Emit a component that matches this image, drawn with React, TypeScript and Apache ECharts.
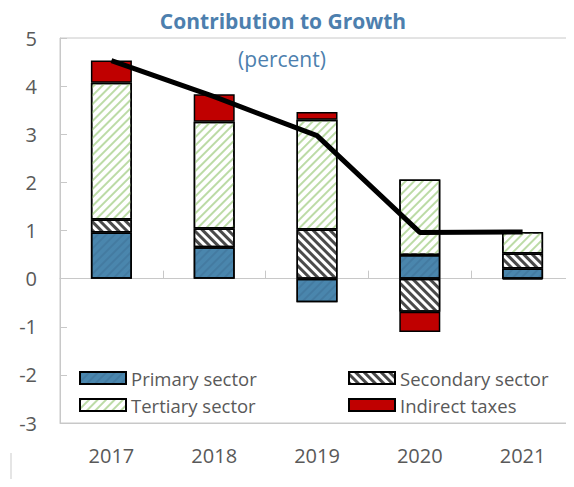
import React, { useEffect, useRef } from "react";
import * as echarts from "echarts";

const years = ["2017", "2018", "2019", "2020", "2021"];
const primary = [0.96, 0.65, -0.49, 0.49, 0.21];
const secondary = [0.27, 0.39, 1.02, -0.69, 0.31];
const tertiary = [2.84, 2.22, 2.28, 1.57, 0.45];
const indirect = [0.46, 0.57, 0.16, -0.42, -0.02];
const growth = [4.53, 3.78, 2.97, 0.96, 0.97];

const FONT = "'Open Sans', 'Noto Sans', sans-serif";
const GRAY = "#595959";

export default function App() {
  const ref = useRef<HTMLDivElement>(null);
  useEffect(() => {
    if (!ref.current) return;
    const chart = echarts.init(ref.current, undefined, { renderer: "svg" });
    const border = { borderColor: "#000", borderWidth: 1.5 };
    const bar = (name: string, data: number[], color: string, decal: any) => ({
      name,
      type: "bar",
      stack: "g",
      data,
      barWidth: 41,
      xAxisIndex: 0,
      itemStyle: { color, ...border, decal },
    });
    const legendBase = {
      orient: "vertical",
      top: 363,
      itemWidth: 46,
      itemHeight: 12,
      itemGap: 7,
      icon: "rect",
      textStyle: { fontFamily: FONT, fontSize: 18.5, color: GRAY, lineHeight: 20 },
    };
    chart.setOption({
      animation: false,
      backgroundColor: "#fff",
      textStyle: { fontFamily: FONT },
      title: [
        {
          text: "Contribution to Growth",
          left: 278,
          textAlign: "center",
          top: 5,
          textStyle: { fontFamily: FONT, fontSize: 21, fontWeight: "bold", color: "#4d7fae" },
        },
        {
          text: "(percent)",
          left: 277,
          textAlign: "center",
          top: 43,
          textStyle: { fontFamily: FONT, fontSize: 21, fontWeight: "normal", color: "#4d7fae" },
        },
      ],
      legend: [
        { ...legendBase, left: 74, data: ["Primary sector", "Tertiary sector"] },
        { ...legendBase, left: 343, data: ["Secondary sector", "Indirect taxes"] },
      ],
      grid: {
        left: 60,
        top: 38,
        right: -1,
        bottom: 64,
        show: true,
        borderColor: "#c8c8c8",
        borderWidth: 1,
      },
      xAxis: [
        {
          type: "category",
          data: years,
          position: "bottom",
          axisLine: { onZero: false, lineStyle: { color: "#c8c8c8" } },
          axisTick: { show: false },
          axisLabel: { color: GRAY, fontSize: 20, fontFamily: FONT, margin: 22 },
        },
        {
          type: "category",
          data: years,
          position: "bottom",
          axisLine: { onZero: true, lineStyle: { color: "#c8c8c8" } },
          axisTick: { show: true, inside: true, length: 8, lineStyle: { color: "#c8c8c8" } },
          axisLabel: { show: false },
        },
      ],
      yAxis: {
        type: "value",
        min: -3,
        max: 5,
        interval: 1,
        axisLine: { show: true, lineStyle: { color: "#c8c8c8" } },
        axisTick: { show: true, inside: true, length: 7, lineStyle: { color: "#c8c8c8" } },
        splitLine: { show: false },
        axisLabel: { color: GRAY, fontSize: 20, fontFamily: FONT, margin: 23 },
      },
      series: [
        bar("Primary sector", primary, "#4a86ad", {
          symbol: "rect",
          symbolSize: 1,
          dashArrayX: [1, 0],
          dashArrayY: [2, 4],
          rotation: -Math.PI / 4,
          color: "rgba(30,60,90,0.15)",
        }),
        bar("Secondary sector", secondary, "#ffffff", {
          symbol: "rect",
          symbolSize: 1,
          dashArrayX: [1, 0],
          dashArrayY: [3, 3],
          rotation: Math.PI / 4,
          color: "#4a4a4a",
        }),
        bar("Tertiary sector", tertiary, "#ffffff", {
          symbol: "rect",
          symbolSize: 1,
          dashArrayX: [1, 0],
          dashArrayY: [2, 4],
          rotation: -Math.PI / 4,
          color: "#bcdba6",
        }),
        bar("Indirect taxes", indirect, "#c00000", undefined),
        {
          name: "Growth",
          type: "line",
          data: growth,
          xAxisIndex: 0,
          showSymbol: false,
          symbol: "none",
          lineStyle: { color: "#000", width: 5 },
          z: 5,
        },
      ],
      graphic: [
        { type: "line", z: 100, shape: { x1: 11, y1: 453, x2: 11, y2: 481 }, style: { stroke: "#dcdcdc", lineWidth: 1.5 } },
        { type: "rect", z: 100, left: 10, top: 480, shape: { x: 0, y: 0, width: 564, height: 7 }, style: { fill: "#e3e3e3" } },
      ],
    });
    return () => chart.dispose();
  }, []);
  return <div ref={ref} style={{ width: 574, height: 487, margin: -8 }} />;
}
